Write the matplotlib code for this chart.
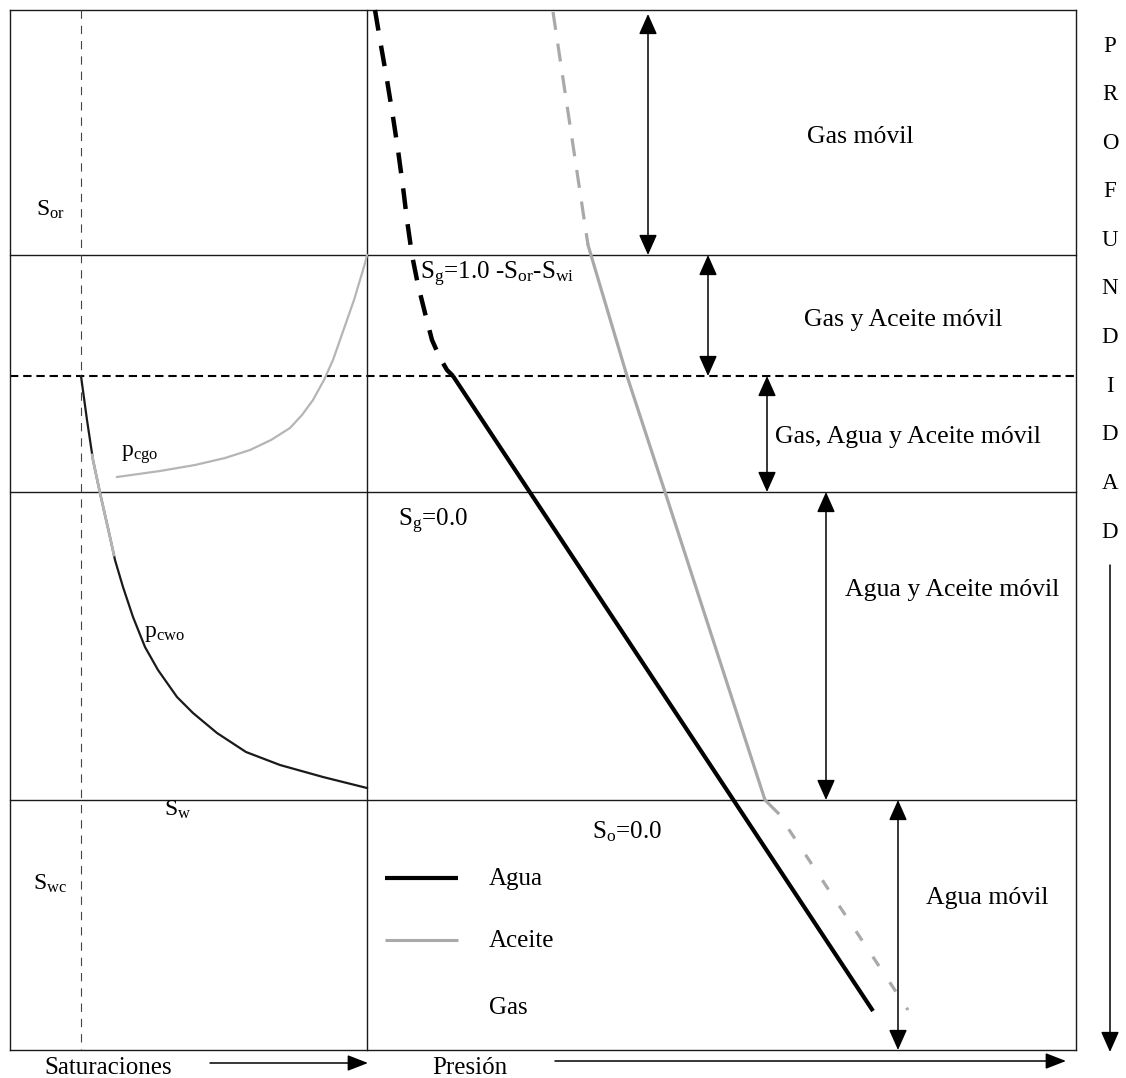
import matplotlib
matplotlib.use("Agg")
import matplotlib.pyplot as plt
import numpy as np

plt.rcParams['font.family'] = ['Liberation Serif', 'DejaVu Serif']
plt.rcParams['mathtext.fontset'] = 'custom'
plt.rcParams['mathtext.rm'] = 'Liberation Serif'
plt.rcParams['mathtext.it'] = 'Liberation Serif:italic'
plt.rcParams['lines.scale_dashes'] = False

# ---------------- data (image depth / pressure / saturation units) ----------------
frame_left, frame_right = 10, 1076
sat_right = 367          # right edge of saturation panel
swc_line = 81            # irreducible saturation line
zone_bounds = [10, 255, 376, 492, 800, 1050]
zone_dashed = [False, False, True, False, False, False]
zone_labels = ["Gas móvil", "Gas y Aceite móvil", "Gas, Agua y Aceite móvil",
               "Agua y Aceite móvil", "Agua móvil"]
zone_label_x = [860, 903, 908, 952, 987]
zone_label_y = [137, 320, 437, 590, 898]
zone_arrow_x = [648, 708, 767, 826, 898]
zone_arrow_top = [14, 255, 376, 492, 800]
zone_arrow_bot = [255, 376, 492, 800, 1050]

# pressure profiles
gas_p = [375, 380, 387, 393, 398, 403, 407, 412, 418, 426, 432, 440, 447, 453]
gas_d = [10, 40, 80, 117, 150, 187, 220, 255, 285, 317, 340, 358, 370, 376]
agua_p = [453, 873]
agua_d = [376, 1011]
aceite_gas_p = [553, 588]
aceite_gas_d = [12, 245]
aceite_p = [588, 627, 665, 765, 778]
aceite_d = [245, 376, 492, 800, 813]
aceite_w_p = [778, 908]
aceite_w_d = [813, 1010]

# capillary pressure curves
pcgo_s = [367, 364.5, 360, 354, 347, 340, 333, 324, 313, 302, 290, 271, 250, 225, 195, 160, 117]
pcgo_d = [255, 265, 280, 300, 320, 340, 360, 380, 400, 415, 428, 440, 450, 458, 465, 471, 477]
pcwo_s = [81, 87, 93, 100, 110, 115, 123, 133, 145, 158, 177, 193, 217, 246, 280, 323, 367]
pcwo_d = [376, 420, 460, 493, 537, 560, 587, 617, 647, 670, 697, 713, 733, 752, 765, 777, 788]
pcwo_gray_range = (455, 555)

# text labels
sat_labels = [r'$\mathrm{S_{or}}$', r'$\mathrm{p_{cgo}}$', r'$\mathrm{p_{cwo}}$',
              r'$\mathrm{S_{w}}$', r'$\mathrm{S_{wc}}$']
sat_label_x = [50, 140, 164, 178, 50]
sat_label_y = [210, 455, 633, 810, 884]
p_labels = [r'$\mathrm{S_{g}}$=1.0 -$\mathrm{S_{or}}$-$\mathrm{S_{wi}}$',
            r'$\mathrm{S_{g}}$=0.0', r'$\mathrm{S_{o}}$=0.0']
p_label_x = [420, 398, 592]
p_label_y = [274, 521, 832]

legend_names = ["Agua", "Aceite", "Gas"]
legend_y = [879, 941, 1008]
legend_line_x = [385, 458]
legend_text_x = 489

depth_word = "PROFUNDIDAD"
depth_letter_x = 1110
depth_letter_y0, depth_letter_step = 46, 48.6
depth_arrow_y = [565, 1052]

axis_names = ["Saturaciones", "Presión"]
axis_name_x = [108, 470]
axis_name_y = 1068
axis_arrow_x = [(210, 368), (555, 1066)]
axis_arrow_y = [1063, 1061]

# ---------------- drawing ----------------
fig = plt.figure(figsize=(11.26, 10.78), dpi=100)
ax = fig.add_axes([0, 0, 1, 1])
ax.set_xlim(0, 1126)
ax.set_ylim(1078, 0)
ax.axis('off')

frame_col = '#1a1a1a'
for yb, dsh in zip(zone_bounds, zone_dashed):
    if dsh:
        ax.plot([frame_left, frame_right], [yb, yb], color='black', lw=1.5,
                linestyle=(0, (6, 3.5)))
    else:
        ax.plot([frame_left, frame_right], [yb, yb], color=frame_col, lw=1.0)
for xv in [frame_left, sat_right, frame_right]:
    ax.plot([xv, xv], [zone_bounds[0], zone_bounds[-1]], color=frame_col, lw=1.0)
ax.plot([swc_line, swc_line], [zone_bounds[0], zone_bounds[-1]], color='#444444',
        lw=0.8, linestyle=(0, (6, 5)))

# pressure profiles
ax.plot(gas_p, gas_d, color='black', lw=3.2, linestyle=(0, (15, 11)),
        dash_capstyle='butt')
ax.plot(agua_p, agua_d, color='black', lw=3.0, solid_capstyle='butt')
ace_col = '#a9a9a9'
ax.plot(aceite_gas_p, aceite_gas_d, color=ace_col, lw=2.3, linestyle=(0, (13, 10)),
        dash_capstyle='butt')
ax.plot(aceite_p, aceite_d, color=ace_col, lw=2.3)
ax.plot(aceite_w_p, aceite_w_d, color=ace_col, lw=2.3, linestyle=(8, (8, 14)),
        dash_capstyle='butt')

# capillary pressure curves
ax.plot(pcgo_s, pcgo_d, color='#b5b5b5', lw=1.6)
pcwo_s_a = np.array(pcwo_s, float)
pcwo_d_a = np.array(pcwo_d, float)
ax.plot(pcwo_s_a, pcwo_d_a, color='#1a1a1a', lw=1.6)
dd = np.linspace(pcwo_gray_range[0], pcwo_gray_range[1], 30)
ax.plot(np.interp(dd, pcwo_d_a, pcwo_s_a), dd, color='#b5b5b5', lw=2.0)

# zone labels and arrows
fs = 18.5
for lab, lx, ly in zip(zone_labels, zone_label_x, zone_label_y):
    ax.text(lx, ly, lab, ha='center', va='center', fontsize=fs)
for xa, y0, y1 in zip(zone_arrow_x, zone_arrow_top, zone_arrow_bot):
    ax.annotate('', xy=(xa, y1), xytext=(xa, y0),
                arrowprops=dict(arrowstyle='<|-|>,head_length=0.9,head_width=0.4',
                                color='black', lw=1.1, mutation_scale=14,
                                shrinkA=0, shrinkB=0))

for lab, lx, ly in zip(sat_labels, sat_label_x, sat_label_y):
    ax.text(lx, ly, lab, ha='center', va='center', fontsize=17)
for lab, lx, ly in zip(p_labels, p_label_x, p_label_y):
    ax.text(lx, ly, lab, ha='left', va='center', fontsize=18)

# legend
legend_cols = ['black', ace_col, 'none']
legend_lw = [3.0, 2.2, 0]
for name, ly, c, lw in zip(legend_names, legend_y, legend_cols, legend_lw):
    if lw > 0:
        ax.plot(legend_line_x, [ly - 1, ly - 1], color=c, lw=lw, solid_capstyle='butt')
    ax.text(legend_text_x, ly, name, ha='left', va='center', fontsize=18)

# depth axis
for i, ch in enumerate(depth_word):
    ax.text(depth_letter_x, depth_letter_y0 + i * depth_letter_step, ch,
            ha='center', va='center', fontsize=16.5)
ax.annotate('', xy=(depth_letter_x, depth_arrow_y[1]), xytext=(depth_letter_x, depth_arrow_y[0]),
            arrowprops=dict(arrowstyle='-|>,head_length=0.9,head_width=0.4',
                            color='black', lw=1.1, mutation_scale=14, shrinkA=0, shrinkB=0))

# bottom axis names
for name, nx, (xa0, xa1), ya in zip(axis_names, axis_name_x, axis_arrow_x, axis_arrow_y):
    ax.text(nx, axis_name_y, name, ha='center', va='center', fontsize=18)
    ax.annotate('', xy=(xa1, ya), xytext=(xa0, ya),
                arrowprops=dict(arrowstyle='-|>,head_length=0.9,head_width=0.35',
                                color='black', lw=1.1, mutation_scale=14, shrinkA=0, shrinkB=0))

fig.savefig('out.png', dpi=100, facecolor='white')
